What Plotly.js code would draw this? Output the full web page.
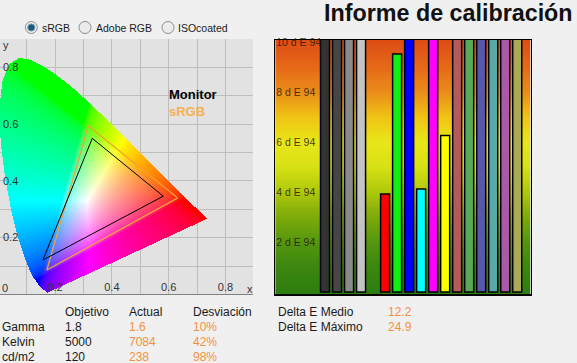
<!DOCTYPE html>
<html><head><meta charset="utf-8">
<script src="https://cdn.plot.ly/plotly-3.0.1.min.js"></script>
<style>html,body{margin:0;padding:0;background:#f0f0f0;overflow:hidden}</style>
</head><body><div id="chart" style="width:577px;height:363px"></div>
<script>
// CIE 1931 2° spectral locus (380 -> 700 nm)
const locusX = [0.1741,0.1738,0.1733,0.1726,0.1714,0.1689,0.1644,0.1566,0.1440,0.1241,0.1096,0.0913,0.0687,0.0454,0.0235,0.0082,0.0039,0.0139,0.0389,0.0743,0.1142,0.1547,0.1929,0.2296,0.2658,0.3016,0.3373,0.3731,0.4087,0.4441,0.4788,0.5125,0.5448,0.5752,0.6029,0.6270,0.6658,0.6915,0.7079,0.7190,0.7260,0.7300,0.7347];
const locusY = [0.0050,0.0049,0.0048,0.0048,0.0051,0.0069,0.0109,0.0177,0.0297,0.0578,0.0868,0.1327,0.2007,0.2950,0.4127,0.5384,0.6548,0.7502,0.8120,0.8338,0.8262,0.8059,0.7816,0.7543,0.7243,0.6923,0.6589,0.6245,0.5896,0.5547,0.5202,0.4866,0.4544,0.4242,0.3965,0.3725,0.3340,0.3083,0.2920,0.2809,0.2740,0.2700,0.2653];

// Gamut triangles (R, G, B)
const srgbX = [0.632, 0.317, 0.171];
const srgbY = [0.340, 0.594, 0.086];
const monitorX = [0.581, 0.331, 0.157];
const monitorY = [0.346, 0.550, 0.121];

const chromaTickVals = [0.1,0.2,0.3,0.4,0.5,0.6,0.7,0.8];
const chromaTickText = ['','0.2','','0.4','','0.6','','0.8'];

// Delta E per patch
const patchNames = ['Gris 1','Gris 2','Gris 3','Gris 4','Blanco','Rojo','Verde','Azul','Cian','Magenta','Amarillo','Rojo 50%','Verde 50%','Azul 50%','Cian 50%','Magenta 50%','Amarillo 50%'];
const patchDeltaE = [11.5,13.2,12.8,10.9,null,3.92,9.52,24.9,4.12,16.4,6.26,13.6,15.1,14.2,12.7,14.9,11.2];
const patchColors = ['#333333','#464646','#8a8a8a','#c4c4c4','#ffffff','#ff0000','#11ee11','#0000ff','#00ffff','#ff00ff','#ffff00','#b45a5a','#58aa58','#5858aa','#58aaaa','#aa58aa','#aaaa58'];
const deltaTickVals = [2,4,6,8,10];
const deltaTickText = ['2 d E 94','4 d E 94','6 d E 94','8 d E 94','10 d E 94'];

const radioLabels = ['sRGB','Adobe RGB','ISOcoated'];
const tableHeaders = ['Objetivo','Actual','Desviación'];
const rowLabels = ['Gamma','Kelvin','cd/m2'];
const targetValues = ['1.8','5000','120'];
const actualValues = ['1.6','7084','238'];
const deviationValues = ['10%','42%','98%'];
const deltaLabels = ['Delta E Medio','Delta E Máximo'];
const deltaValues = ['12.2','24.9'];

// ---------- chromaticity image ----------
const W = 577, H = 363;
const px = v => v / W;
const py = v => 1 - v / H;

function insideLocus(x, y) {
  let c = false;
  const n = locusX.length;
  for (let i = 0, j = n - 1; i < n; j = i++) {
    const xi = locusX[i], yi = locusY[i], xj = locusX[j], yj = locusY[j];
    if (((yi > y) !== (yj > y)) && (x < (xj - xi) * (y - yi) / (yj - yi) + xi)) c = !c;
  }
  return c;
}
function comp(v) { return v <= 0.0031308 ? 12.92 * v : 1.055 * Math.pow(v, 1 / 2.4) - 0.055; }
function xyToRgb(x, y) {
  const X = x / y, Y = 1, Z = (1 - x - y) / y;
  let r = 3.2406 * X - 1.5372 * Y - 0.4986 * Z;
  let g = -0.9689 * X + 1.8758 * Y + 0.0415 * Z;
  let b = 0.0557 * X - 0.2040 * Y + 1.0570 * Z;
  r = Math.max(r, 0); g = Math.max(g, 0); b = Math.max(b, 0);
  const m = Math.max(r, g, b) || 1;
  return [255 * comp(r / m), 255 * comp(g / m), 255 * comp(b / m)];
}
const xr = [0.006, 0.897], yr = [0, 0.9];
const nx = 253, ny = 255;
const dx = (xr[1] - xr[0]) / nx, dy = (yr[1] - yr[0]) / ny;
const img = [];
for (let j = 0; j < ny; j++) {
  const yy = yr[0] + (j + 0.5) * dy;
  const row = [];
  for (let i = 0; i < nx; i++) {
    const xx = xr[0] + (i + 0.5) * dx;
    if (insideLocus(xx, yy)) { const c = xyToRgb(xx, yy); row.push([c[0], c[1], c[2], 1]); }
    else row.push([0, 0, 0, 0]);
  }
  img.push(row);
}

// ---------- background gradient for delta E chart ----------
const dRange = [-0.08, 10.08];
const gradEdges = [], gradZ = [];
const NG = 120;
for (let k = 0; k <= NG; k++) gradEdges.push(dRange[0] + k * (dRange[1] - dRange[0]) / NG);
for (let k = 0; k < NG; k++) gradZ.push([(gradEdges[k] + gradEdges[k + 1]) / 2]);
const patchIndex = patchNames.map((_, i) => i);
const xr2 = [-4.14, 17.12];

const traces = [
  { type: 'image', z: img, colormodel: 'rgba', x0: xr[0] + dx / 2, dx: dx, y0: yr[0] + dy / 2, dy: dy, xaxis: 'x', yaxis: 'y', hoverinfo: 'skip' },
  { type: 'scatter', mode: 'lines', x: srgbX.concat([srgbX[0]]), y: srgbY.concat([srgbY[0]]), line: { color: '#f0a040', width: 1.3 }, xaxis: 'x', yaxis: 'y', hoverinfo: 'skip' },
  { type: 'scatter', mode: 'lines', x: monitorX.concat([monitorX[0]]), y: monitorY.concat([monitorY[0]]), line: { color: '#000000', width: 1 }, xaxis: 'x', yaxis: 'y', hoverinfo: 'skip' },
  { type: 'heatmap', x: xr2, y: gradEdges, z: gradZ, zmin: 0, zmax: 10, showscale: false, hoverinfo: 'skip', xaxis: 'x2', yaxis: 'y2',
    colorscale: [[0, 'rgb(45,125,15)'], [0.1, 'rgb(60,135,15)'], [0.2, 'rgb(85,150,15)'], [0.3, 'rgb(125,170,10)'], [0.4, 'rgb(175,200,10)'], [0.5, 'rgb(215,225,20)'], [0.6, 'rgb(232,230,25)'], [0.7, 'rgb(240,195,20)'], [0.8, 'rgb(234,140,25)'], [0.9, 'rgb(230,105,25)'], [1, 'rgb(222,78,20)']] },
  { type: 'bar', x: patchIndex, y: patchDeltaE, text: patchNames, textposition: 'none', width: 0.75, xaxis: 'x2', yaxis: 'y2',
    marker: { color: patchColors, line: { color: '#000000', width: 1.5 } }, hoverinfo: 'text+y' }
];

const font = 'Liberation Sans, Arial, sans-serif';
const ann = [];
const shapes = [];

// axis letters and origin label
ann.push({ xref: 'paper', yref: 'paper', x: px(1), y: py(45), xanchor: 'left', yanchor: 'middle', text: 'y', showarrow: false, font: { family: font, size: 11, color: '#333' } });
ann.push({ xref: 'paper', yref: 'paper', x: px(245), y: py(289), xanchor: 'left', yanchor: 'middle', text: 'x', showarrow: false, font: { family: font, size: 11, color: '#333' } });
ann.push({ xref: 'paper', yref: 'paper', x: px(0), y: py(288), xanchor: 'left', yanchor: 'middle', text: '0', showarrow: false, font: { family: font, size: 11, color: '#333' } });

// legend text inside diagram
ann.push({ xref: 'paper', yref: 'paper', x: px(167), y: py(95), xanchor: 'left', yanchor: 'middle', text: 'Monitor', showarrow: false, font: { family: font, size: 13, color: '#000', weight: 'bold' } });
ann.push({ xref: 'paper', yref: 'paper', x: px(167), y: py(111), xanchor: 'left', yanchor: 'middle', text: 'sRGB', showarrow: false, font: { family: font, size: 13, color: '#f5b050', weight: 'bold' } });

// title
ann.push({ xref: 'paper', yref: 'paper', x: px(322), y: py(13), xanchor: 'left', yanchor: 'middle', text: 'Informe de calibración', showarrow: false, font: { family: font, size: 23.3, color: '#111', weight: 'bold' } });

// radio buttons
const radioX = [31.3, 85, 168];
radioLabels.forEach((lab, i) => {
  const cx = radioX[i], cy = 27.5, r = 6;
  shapes.push({ type: 'circle', xref: 'paper', yref: 'paper', x0: px(cx - r), x1: px(cx + r), y0: py(cy + r), y1: py(cy - r), line: { color: '#8d8f92', width: 1 }, fillcolor: '#ececec' });
  if (i === 0) {
    shapes.push({ type: 'circle', xref: 'paper', yref: 'paper', x0: px(cx - 3.6), x1: px(cx + 3.6), y0: py(cy + 3.6), y1: py(cy - 3.6), line: { color: '#6aa0b8', width: 1 }, fillcolor: '#1e5a78' });
  }
  ann.push({ xref: 'paper', yref: 'paper', x: px(cx + 8.5), y: py(cy), xanchor: 'left', yanchor: 'middle', text: lab, showarrow: false, font: { family: font, size: 10.5, color: '#1a1a1a' } });
});

// table
const dark = '#1a1a1a', orange = '#f39140';
const colX = [0, 63, 127, 191];
const rowY = [312, 327, 342, 357];
tableHeaders.forEach((h, i) => ann.push({ xref: 'paper', yref: 'paper', x: px(colX[i + 1]), y: py(rowY[0]), xanchor: 'left', yanchor: 'middle', text: h, showarrow: false, font: { family: font, size: 12, color: dark } }));
rowLabels.forEach((lab, r) => {
  const y = py(rowY[r + 1]);
  ann.push({ xref: 'paper', yref: 'paper', x: px(colX[0]), y: y, xanchor: 'left', yanchor: 'middle', text: lab, showarrow: false, font: { family: font, size: 12, color: dark } });
  ann.push({ xref: 'paper', yref: 'paper', x: px(colX[1]), y: y, xanchor: 'left', yanchor: 'middle', text: targetValues[r], showarrow: false, font: { family: font, size: 12, color: dark } });
  ann.push({ xref: 'paper', yref: 'paper', x: px(colX[2]), y: y, xanchor: 'left', yanchor: 'middle', text: actualValues[r], showarrow: false, font: { family: font, size: 12, color: orange } });
  ann.push({ xref: 'paper', yref: 'paper', x: px(colX[3]), y: y, xanchor: 'left', yanchor: 'middle', text: deviationValues[r], showarrow: false, font: { family: font, size: 12, color: orange } });
});
deltaLabels.forEach((lab, r) => {
  const y = py(rowY[r]);
  ann.push({ xref: 'paper', yref: 'paper', x: px(276), y: y, xanchor: 'left', yanchor: 'middle', text: lab, showarrow: false, font: { family: font, size: 12, color: dark } });
  ann.push({ xref: 'paper', yref: 'paper', x: px(386), y: y, xanchor: 'left', yanchor: 'middle', text: deltaValues[r], showarrow: false, font: { family: font, size: 12, color: orange } });
});

const tickFont = { family: font, size: 11, color: '#333' };
const layout = {
  width: W, height: H, margin: { l: 0, r: 0, t: 0, b: 0, pad: 0 },
  paper_bgcolor: '#f0f0f0', plot_bgcolor: '#e2e2e2', showlegend: false,
  xaxis: { domain: [0, 253 / W], range: xr, anchor: 'y', scaleanchor: false, constrain: 'range', tickmode: 'array', tickvals: chromaTickVals, ticktext: chromaTickText,
    ticklabelposition: 'inside', ticks: '', showgrid: true, gridcolor: '#bdbdbd', gridwidth: 1, zeroline: false, showline: true, linecolor: '#808080', linewidth: 1, tickfont: tickFont, fixedrange: true },
  yaxis: { domain: [1 - 294.4 / H, 1 - 39 / H], range: yr, anchor: 'x', scaleanchor: false, constrain: 'range', tickmode: 'array', tickvals: chromaTickVals, ticktext: chromaTickText,
    ticklabelposition: 'inside', ticks: '', showgrid: true, gridcolor: '#bdbdbd', gridwidth: 1, zeroline: false, showline: false, tickfont: tickFont, fixedrange: true },
  xaxis2: { domain: [275.3 / W, 530.7 / W], range: xr2, anchor: 'y2', showgrid: false, zeroline: false, showticklabels: false, ticks: '',
    showline: true, mirror: true, linecolor: '#000', linewidth: 1.5, fixedrange: true },
  yaxis2: { domain: [1 - 294 / H, 1 - 40 / H], range: dRange, anchor: 'x2', tickmode: 'array', tickvals: deltaTickVals, ticktext: deltaTickText,
    ticklabelposition: 'inside', ticklabeloverflow: 'allow', ticks: '', showgrid: false, zeroline: false, showline: true, mirror: true, linecolor: '#000', linewidth: 1.5,
    tickfont: { family: font, size: 10.5, color: 'rgba(40,25,0,0.85)' }, fixedrange: true },
  annotations: ann, shapes: shapes
};
Plotly.newPlot('chart', traces, layout, { staticPlot: true, displayModeBar: false });
</script></body></html>
